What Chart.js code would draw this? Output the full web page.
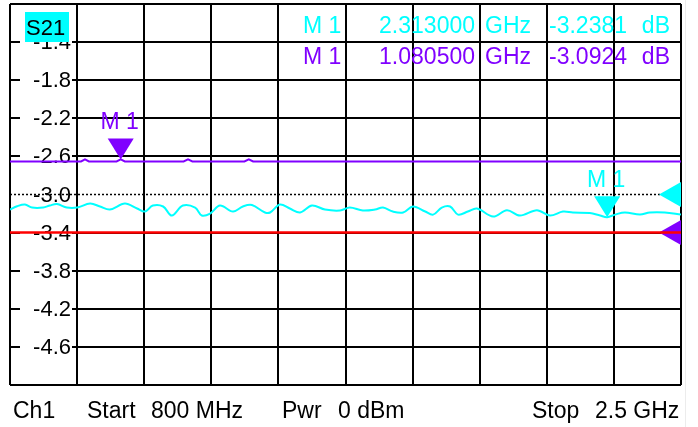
<!DOCTYPE html>
<html>
<head>
<meta charset="utf-8">
<script src="https://cdn.jsdelivr.net/npm/chart.js@4"></script>
<style>
  html, body { margin: 0; padding: 0; background: #fff; }
  #wrap { width: 698px; height: 427px; }
</style>
</head>
<body>
<div id="wrap"><canvas id="chart" width="698" height="427"></canvas></div>
<script>
// sweep
const startMHz = 800;
const stopMHz = 2500;
const powerDbm = 0;

// S21 trace (cyan)
const s21FreqMHz = [800, 818, 838, 856, 884, 901, 919, 944, 970, 1003, 1028, 1053, 1091, 1122, 1142, 1162,
  1188, 1210, 1238, 1269, 1286, 1307, 1332, 1365, 1390, 1413, 1446, 1459, 1484, 1509, 1535, 1565, 1598,
  1636, 1661, 1694, 1725, 1745, 1770, 1796, 1821, 1852, 1872, 1894, 1915, 1935, 1960, 1983, 2024, 2059,
  2092, 2135, 2168, 2201, 2226, 2269, 2295, 2313, 2333, 2358, 2396, 2421, 2459, 2500];
const s21Db = [-3.158, -3.123, -3.105, -3.137, -3.137, -3.116, -3.100, -3.137, -3.137, -3.095, -3.126, -3.158,
  -3.095, -3.147, -3.179, -3.116, -3.126, -3.221, -3.116, -3.137, -3.221, -3.200, -3.116, -3.179, -3.126,
  -3.111, -3.189, -3.189, -3.105, -3.147, -3.189, -3.116, -3.158, -3.168, -3.137, -3.168, -3.158, -3.137,
  -3.179, -3.189, -3.126, -3.179, -3.211, -3.137, -3.126, -3.211, -3.179, -3.147, -3.232, -3.165, -3.221,
  -3.165, -3.221, -3.179, -3.189, -3.195, -3.221, -3.238, -3.211, -3.189, -3.211, -3.189, -3.189, -3.211];

// second trace (purple), as displayed
const purpleFreqMHz = [800, 980, 990, 1000, 1070, 1080.5, 1091, 1240, 1251, 1262, 1394, 1405, 1416, 2500];
const purpleDb = [-2.653, -2.653, -2.632, -2.653, -2.653, -2.632, -2.653, -2.653, -2.632, -2.653, -2.653,
  -2.632, -2.653, -2.653];

// reference / limit lines
const refLineDb = -3.0;
const limitLineDb = -3.4;
const purpleRefDb = -3.4;

// y tick labels shown on the screen
const yTickLabels = ['-1.4', '-1.8', '-2.2', '-2.6', '-3.0', '-3.4', '-3.8', '-4.2', '-4.6'];

// markers: frequency, value on screen, readout
const markerFreqMHz = [2313.0, 1080.5];
const markerPlotDb = [-3.2381, -2.632];
const markerReadoutDb = [-3.2381, -3.0924];

const CYAN = '#00ffff';
const PURPLE = '#8000ff';
const RED = '#ff0000';
const FONT = '"Liberation Sans", Arial, sans-serif';
const markerColors = [CYAN, PURPLE];

function pts(xs, ys) {
  return xs.map((x, i) => ({ x, y: ys[i] }));
}

function drawRefArrow(chart, value, color) {
  const ctx = chart.ctx;
  const y = chart.scales.y.getPixelForValue(value);
  const r = chart.chartArea.right;
  ctx.save();
  ctx.fillStyle = color;
  ctx.beginPath();
  ctx.moveTo(r - 22, y);
  ctx.lineTo(r, y - 12.5);
  ctx.lineTo(r, y + 12.5);
  ctx.closePath();
  ctx.fill();
  ctx.restore();
}

const screenPlugin = {
  id: 'screen',
  beforeDatasetsDraw(chart) {
    const ctx = chart.ctx;
    const ys = chart.scales.y;
    ctx.save();
    ctx.font = '22px ' + FONT;
    ctx.textBaseline = 'middle';
    ctx.textAlign = 'right';
    yTickLabels.forEach(t => {
      const y = ys.getPixelForValue(parseFloat(t));
      ctx.fillStyle = '#fff';
      ctx.fillRect(20, y - 4, 52, 8);
      ctx.fillStyle = '#000';
      ctx.fillText(t, 71, y + 1);
    });
    // S21 badge
    ctx.fillStyle = CYAN;
    ctx.fillRect(25, 12, 44, 30);
    ctx.fillStyle = '#000';
    ctx.textAlign = 'left';
    ctx.fillText('S21', 26, 29);
    ctx.restore();
    drawRefArrow(chart, purpleRefDb, PURPLE);
  },
  afterDatasetsDraw(chart) {
    const ctx = chart.ctx;
    const xs = chart.scales.x;
    const ys = chart.scales.y;
    drawRefArrow(chart, refLineDb, CYAN);

    ctx.save();
    ctx.font = '23px ' + FONT;
    ctx.textBaseline = 'middle';

    // marker triangles and labels
    markerFreqMHz.forEach((f, i) => {
      const x = xs.getPixelForValue(f);
      const y = ys.getPixelForValue(markerPlotDb[i]);
      ctx.fillStyle = markerColors[i];
      ctx.beginPath();
      ctx.moveTo(x, y);
      ctx.lineTo(x - 13, y - 21);
      ctx.lineTo(x + 13, y - 21);
      ctx.closePath();
      ctx.fill();
      ctx.textAlign = 'center';
      ctx.fillText('M 1', x - 1, y - 37);
    });

    // marker readout table
    const rowY = [27, 58];
    markerFreqMHz.forEach((f, i) => {
      ctx.fillStyle = markerColors[i];
      ctx.textAlign = 'left';
      ctx.fillText('M 1', 303, rowY[i]);
      ctx.textAlign = 'right';
      ctx.fillText((f / 1000).toFixed(6), 475, rowY[i]);
      ctx.textAlign = 'left';
      ctx.fillText('GHz', 485, rowY[i]);
      ctx.fillText(markerReadoutDb[i].toFixed(4), 549, rowY[i]);
      ctx.textAlign = 'right';
      ctx.fillText('dB', 670, rowY[i]);
    });

    // footer
    ctx.fillStyle = '#000';
    ctx.textAlign = 'left';
    const footer = [
      ['Ch1', 13], ['Start', 87], [startMHz + ' MHz', 151], ['Pwr', 282],
      [powerDbm + ' dBm', 338], ['Stop', 532], [(stopMHz / 1000) + ' GHz', 595]
    ];
    footer.forEach(([t, x]) => ctx.fillText(t, x, 412));

    ctx.strokeStyle = '#ececec';
    ctx.lineWidth = 1;
    ctx.beginPath();
    ctx.moveTo(685.5, 0);
    ctx.lineTo(685.5, 427);
    ctx.stroke();
    ctx.restore();
  }
};

new Chart(document.getElementById('chart'), {
  type: 'line',
  data: {
    datasets: [
      {
        data: pts(s21FreqMHz, s21Db),
        borderColor: CYAN,
        borderWidth: 2,
        tension: 0.35,
        pointRadius: 0
      },
      {
        data: pts(purpleFreqMHz, purpleDb),
        borderColor: PURPLE,
        borderWidth: 2,
        tension: 0,
        pointRadius: 0
      },
      {
        data: pts([startMHz, stopMHz], [limitLineDb, limitLineDb]),
        borderColor: RED,
        borderWidth: 2.5,
        pointRadius: 0
      },
      {
        data: pts([startMHz, stopMHz], [refLineDb, refLineDb]),
        borderColor: '#000',
        borderWidth: 1.5,
        borderDash: [2, 2],
        pointRadius: 0
      }
    ]
  },
  options: {
    responsive: false,
    animation: false,
    devicePixelRatio: 1,
    layout: { padding: { left: 10, right: 17, top: 4, bottom: 42 } },
    plugins: { legend: { display: false }, tooltip: { enabled: false } },
    scales: {
      x: {
        type: 'linear',
        min: startMHz,
        max: stopMHz,
        ticks: { display: false, stepSize: (stopMHz - startMHz) / 10 },
        grid: { color: '#000', lineWidth: 2, drawTicks: false },
        border: { display: false }
      },
      y: {
        min: -5,
        max: -1,
        ticks: { display: false, stepSize: 0.4 },
        grid: {
          color: c => (c.tick && Math.abs(c.tick.value - refLineDb) < 1e-6) ? 'rgba(0,0,0,0)' : '#000',
          lineWidth: 2,
          drawTicks: false
        },
        border: { display: false }
      }
    }
  },
  plugins: [screenPlugin]
});
</script>
</body>
</html>
